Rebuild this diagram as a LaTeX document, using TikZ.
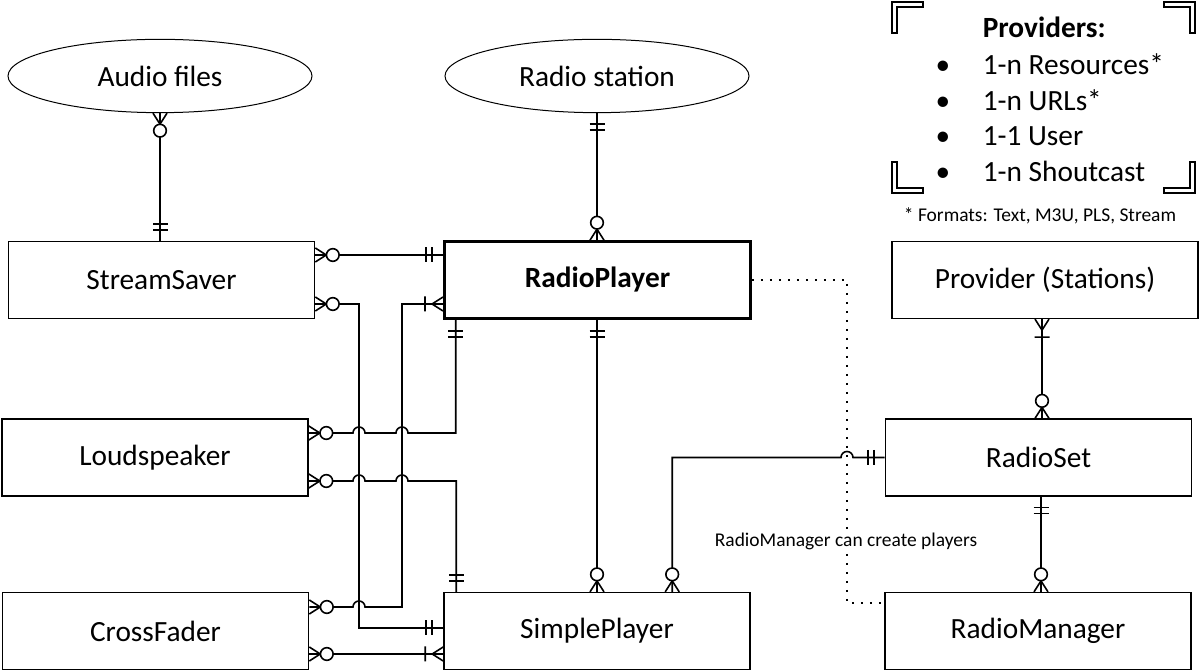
\documentclass[tikz,border=0pt]{standalone}
\usepackage{fontspec}
\setmainfont{Carlito}
\usetikzlibrary{shapes.geometric}

\tikzset{
  entity/.style={draw, minimum width=229.5pt, minimum height=57.5pt, font=\fontsize{22}{26}\selectfont},
  store/.style={ellipse, draw, line width=0.75pt, minimum width=228pt, minimum height=55pt, inner sep=0pt, font=\fontsize{22}{26}\selectfont},
  note/.style={font=\fontsize{14.6}{17}\selectfont, inner sep=1pt},
  item/.style={anchor=base west, inner sep=0pt, font=\fontsize{22}{26}\selectfont},
  dot/.style={anchor=base, inner sep=0pt, font=\fontsize{22}{26}\selectfont},
  link/.style={line width=1.3pt, dash pattern=on 1.3pt off 5.45pt},
  one/.pic={\draw (11,-7.5) -- (11,7.5) (17,-7.5) -- (17,7.5);},
  zmany/.pic={\draw (0,-7) -- (11,0) -- (0,7);
              \draw[fill=white] (17.5,0) circle[radius=4.75pt];},
  omany/.pic={\draw (0,-7) -- (11,0) -- (0,7) (18,-7.5) -- (18,7.5);},
}

\begin{document}
\begin{tikzpicture}[x=0.75pt, y=0.75pt, line width=1.2pt, allow upside down]
  \useasboundingbox (0,0) rectangle (1200,671);

  % Define nodes
  \node[store]  (audio)    at (160,595)    {Audio files};
  \node[store]  (station)  at (597,595)    {Radio station};
  \node[entity] (saver)    at (161.5,391)  {StreamSaver};
  \node[entity, line width=2.2pt, font=\fontsize{22}{26}\selectfont\bfseries] (player) at (597.5,391) {RadioPlayer};
  \node[entity] (provider) at (1045,391)   {Provider (Stations)};
  \node[entity] (speaker)  at (155,213.5)  {Loudspeaker};
  \node[entity] (radioset) at (1038.5,213.5) {RadioSet};
  \node[entity] (fader)    at (155.5,40)   {CrossFader};
  \node[entity] (simple)   at (597,40)     {SimplePlayer};
  \node[entity] (manager)  at (1038,40)    {RadioManager};

  % Connect the nodes
  \draw (audio.south) -- (audio.south |- saver.north)
    pic[pos=0, sloped]{zmany} pic[pos=1, sloped, rotate=180]{one};
  \draw (station.south) -- (station.south |- player.north)
    pic[pos=0, sloped]{one} pic[pos=1, sloped, rotate=180]{zmany};
  \draw ([yshift=18.75pt]saver.east) -- ([yshift=18.75pt]player.west)
    pic[pos=0, sloped]{zmany} pic[pos=1, sloped, rotate=180]{one};
  \draw ([yshift=-18pt]saver.east) -| (359,43) pic[pos=0, sloped]{zmany}
    -- (simple.west |- 0,43) pic[pos=1, sloped, rotate=180]{one};
  \draw ([yshift=-18pt]player.west) -| (402,64) pic[pos=0, sloped]{omany}
    -- (365,64) arc[start angle=0, end angle=180, radius=4.5pt]
    -- ([yshift=18pt]fader.east) pic[pos=1, sloped, rotate=180]{zmany};
  \draw ([xshift=9.5pt]player.south west) |- (408,238) pic[pos=0, sloped]{one}
    arc[start angle=0, end angle=180, radius=4.5pt]
    -- (365,238) arc[start angle=0, end angle=180, radius=4.5pt]
    -- (speaker.east |- 0,238) pic[pos=1, sloped, rotate=180]{zmany};
  \draw (speaker.east |- 0,190) -- (353,190) pic[pos=0, sloped]{zmany}
    arc[start angle=180, end angle=0, radius=4.5pt]
    -- (396,190) arc[start angle=180, end angle=0, radius=4.5pt]
    -| ([xshift=9.75pt]simple.north west) pic[pos=1, sloped, rotate=180]{one};
  \draw ([yshift=-17.25pt]fader.east) -- ([yshift=-17.25pt]fader.east -| simple.west)
    pic[pos=0, sloped]{zmany} pic[pos=1, sloped, rotate=180]{omany};
  \draw (player.south -| 597,0) -- (simple.north -| 597,0)
    pic[pos=0, sloped]{one} pic[pos=1, sloped, rotate=180]{zmany};
  \draw (radioset.west) -- (radioset.west -| 853,0) pic[pos=0, sloped]{one}
    arc[start angle=0, end angle=180, radius=4.5pt]
    -| ([xshift=171.75pt]simple.north west) pic[pos=1, sloped, rotate=180]{zmany};
  \draw (provider.south -| 1042,0) -- (radioset.north -| 1042,0)
    pic[pos=0, sloped]{omany} pic[pos=1, sloped, rotate=180]{zmany};
  \draw (radioset.south -| 1041,0) -- (manager.north -| 1041,0)
    pic[pos=0, sloped]{one} pic[pos=1, sloped, rotate=180]{zmany};
  \draw[link] (player.east) -| (847,68) -- (manager.west |- 0,68);
  \node[note, fill=white] (can) at (846,130) {RadioManager can create players};

  % Providers note
  \draw (892,638) |- (923,669) -- (923,664) -| (897,638) -- cycle;
  \draw (1195,638) |- (1164,669) -- (1164,664) -| (1190,638) -- cycle;
  \draw (892,509) |- (923,478) -- (923,483) -| (897,509) -- cycle;
  \draw (1195,509) |- (1164,478) -- (1164,483) -| (1190,509) -- cycle;
  \node[item, font=\fontsize{22}{26}\selectfont\bfseries] (title) at (982,633) {Providers:};
  \node[dot]  (b1)  at (943,596)   {\textbullet};
  \node[item] (res) at (982,596)   {1-n Resources*};
  \node[dot]  (b2)  at (943,560.5) {\textbullet};
  \node[item] (url) at (982,560.5) {1-n URLs*};
  \node[dot]  (b3)  at (943,525)   {\textbullet};
  \node[item] (usr) at (982,525)   {1-1 User};
  \node[dot]  (b4)  at (943,489)   {\textbullet};
  \node[item] (sc)  at (982,489)   {1-n Shoutcast};
  \node[note, anchor=base] (formats) at (1040,449) {* Formats: Text, M3U, PLS, Stream};

\end{tikzpicture}
\end{document}
